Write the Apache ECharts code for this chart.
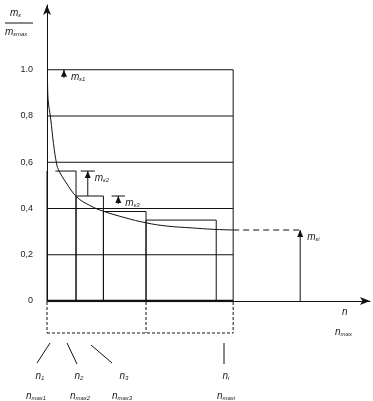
<!DOCTYPE html>
<html><head><meta charset="utf-8">
<script src="https://cdn.jsdelivr.net/npm/echarts@6/dist/echarts.min.js"></script>
<style>html,body{margin:0;padding:0;background:#fff}#c{width:373px;height:401px}</style>
</head><body><div id="c"></div>
<script>
// ---- data ----
const yTickValues = [0, 0.2, 0.4, 0.6, 0.8, 1.0];
const yTickLabels = ['0', '0,2', '0,4', '0,6', '0,8', '1.0'];
const curveX = [0.003, 0.006, 0.02, 0.035, 0.052, 0.065, 0.1, 0.16, 0.23, 0.30, 0.42, 0.532, 0.644, 0.78, 0.892, 1.0];
const curveY = [0.95, 0.87, 0.787, 0.68, 0.592, 0.562, 0.515, 0.45, 0.413, 0.389, 0.36, 0.338, 0.324, 0.316, 0.31, 0.307];
const barLeft = [0, 0.156, 0.303, 0.532];
const barRight = [0.156, 0.303, 0.532, 0.909];
const barTopStart = [0.045, 0.156, 0.303, 0.532];
const barHeight = [0.562, 0.454, 0.387, 0.35];
const limitX = 1.0;
const limitY = 1.0;
const markerX = 1.36;
const markerY = 0.307;
const boxSplitX = 0.532;
const annoSub = ['ε1', 'ε2', 'ε3', 'εi'];
const annoX = [0.091, 0.219, 0.383, 1.36];
const annoFrom = [0.965, 0.454, 0.42, 0];
const annoTo = [1.0, 0.562, 0.454, 0.307];
const annoCapHalf = [0, 0.038, 0.036, 0];
const bottomSub = ['1', '2', '3', 'i'];
const bottomMaxSub = ['max1', 'max2', 'max3', 'maxi'];

const FONT = 'Liberation Sans, Arial, sans-serif';
const INK = '#111';

const chart = echarts.init(document.getElementById('c'), null, {renderer: 'canvas'});

function seg(api, a, b, style) {
  const p = api.coord(a), q = api.coord(b);
  return {type: 'line', shape: {x1: p[0], y1: p[1], x2: q[0], y2: q[1]}, style: Object.assign({stroke: INK, lineWidth: 1}, style || {})};
}
const RICH = {m: {fontSize: 10, fontStyle: 'italic', fontFamily: FONT, fill: '#222'}, s: {fontSize: 6, fontStyle: 'italic', fontFamily: FONT, fill: '#222', padding: [5, 0, 0, 0]}};

const option = {
  animation: false,
  grid: {left: 47, right: 3, top: 5, bottom: 100},
  xAxis: {
    type: 'value', min: 0, max: 1.735,
    axisLine: {show: true, onZero: false, lineStyle: {color: INK, width: 1}, symbol: ['none', 'arrow'], symbolSize: [6, 10]},
    axisTick: {show: false}, axisLabel: {show: false}, splitLine: {show: false}
  },
  yAxis: {
    type: 'value', min: 0, max: 1.28, interval: 0.2,
    axisLine: {show: true, lineStyle: {color: INK, width: 1}, symbol: ['none', 'arrow'], symbolSize: [6, 10]},
    axisTick: {show: false}, splitLine: {show: false},
    axisLabel: {
      margin: 14, color: '#222', fontSize: 9, fontFamily: FONT,
      formatter: v => { const i = yTickValues.findIndex(t => Math.abs(t - v) < 1e-6); return i < 0 ? '' : yTickLabels[i]; }
    }
  },
  series: [
    { // grid lines + limit vertical
      type: 'custom', clip: false, silent: true,
      data: yTickValues.slice(1),
      renderItem: (params, api) => {
        const v = api.value(0);
        const children = [seg(api, [0, v], [limitX, v])];
        if (params.dataIndex === 0) children.push(seg(api, [limitX, 0], [limitX, limitY]));
        return {type: 'group', children};
      },
      encode: {x: 0, y: 0}
    },
    { // bars (outlines)
      type: 'custom', clip: false, silent: true,
      data: barHeight.map((h, i) => [barLeft[i], barRight[i], h, barTopStart[i]]),
      renderItem: (params, api) => {
        const x0 = api.value(0), x1 = api.value(1), h = api.value(2), xs = api.value(3);
        return {type: 'group', children: [
          seg(api, [x0, 0], [x0, h]),
          seg(api, [xs, h], [x1, h]),
          seg(api, [x1, h], [x1, 0])
        ]};
      },
      encode: {x: [0, 1], y: 2}
    },
    { // curve
      type: 'line', smooth: 0.4, symbol: 'none', silent: true,
      data: curveX.map((x, i) => [x, curveY[i]]),
      lineStyle: {color: INK, width: 1}
    },
    { // thick base
      type: 'line', symbol: 'none', silent: true,
      data: [[0, 0], [limitX, 0]],
      lineStyle: {color: INK, width: 2.5}
    },
    { // dashed level to marker
      type: 'line', symbol: 'none', silent: true,
      data: [[limitX, markerY], [markerX, markerY]],
      lineStyle: {color: INK, width: 1, type: [6, 4]}
    },
    { // annotations
      type: 'custom', clip: false, silent: true,
      data: annoX.map((x, i) => [x, annoFrom[i], annoTo[i], annoCapHalf[i]]),
      renderItem: (params, api) => {
        const x = api.value(0), f = api.value(1), t = api.value(2), ch = api.value(3);
        const tip = api.coord([x, t]);
        const children = [seg(api, [x, f], [x, t])];
        if (ch > 0) children.push(seg(api, [x - ch, t], [x + ch, t]));
        children.push({type: 'polygon', shape: {points: [[tip[0], tip[1]], [tip[0] - 3, tip[1] + 7], [tip[0] + 3, tip[1] + 7]]}, style: {fill: INK}});
        children.push({type: 'text', style: {
          text: '{m|m}{s|' + annoSub[params.dataIndex] + '}', x: tip[0] + 7, y: tip[1] + 7,
          verticalAlign: 'middle', align: 'left', rich: RICH
        }});
        return {type: 'group', children};
      },
      encode: {x: 0, y: [1, 2]}
    },
    { // dashed box below axis
      type: 'custom', clip: false, silent: true,
      data: [[0, limitX, boxSplitX]],
      renderItem: (params, api) => {
        const a = api.coord([api.value(0), 0]);
        const b = api.coord([api.value(1), 0]);
        const m = api.coord([api.value(2), 0]);
        const yb = a[1] + 32;
        const st = {stroke: INK, lineWidth: 1, lineDash: [3, 2]};
        const L = (x1, y1, x2, y2) => ({type: 'line', shape: {x1, y1, x2, y2}, style: st});
        return {type: 'group', children: [
          L(a[0], a[1] + 1, a[0], yb), L(b[0], a[1] + 1, b[0], yb), L(m[0], a[1] + 1, m[0], yb), L(a[0], yb, b[0], yb)
        ]};
      },
      encode: {x: [0, 1], y: 2}
    }
  ],
  graphic: [
    {type: 'text', left: 10, top: 8, style: {text: '{m|m}{s|ε}', rich: RICH}},
    {type: 'line', shape: {x1: 5, y1: 23, x2: 33, y2: 23}, style: {stroke: INK, lineWidth: 1}},
    {type: 'text', left: 5, top: 27, style: {text: '{m|m}{s|εmax}', rich: RICH}},
    {type: 'text', left: 342, top: 307, style: {text: 'n', font: 'italic 10px ' + FONT, fill: '#222'}},
    {type: 'text', left: 335, top: 327, style: {text: '{m|n}{s|max}', rich: RICH}},
    {type: 'line', shape: {x1: 50, y1: 343, x2: 37, y2: 363}, style: {stroke: INK, lineWidth: 1}},
    {type: 'line', shape: {x1: 67, y1: 343, x2: 77, y2: 364}, style: {stroke: INK, lineWidth: 1}},
    {type: 'line', shape: {x1: 91, y1: 345, x2: 112, y2: 363}, style: {stroke: INK, lineWidth: 1}},
    {type: 'line', shape: {x1: 224, y1: 343, x2: 224, y2: 364}, style: {stroke: INK, lineWidth: 1}}
  ].concat(
    [40, 79, 124, 226].map((cx, i) => ({type: 'text', x: cx, y: 376, style: {text: '{m|n}{s|' + bottomSub[i] + '}', align: 'center', verticalAlign: 'middle', rich: RICH}})),
    [36, 80, 122, 226].map((cx, i) => ({type: 'text', x: cx, y: 396, style: {text: '{m|n}{s|' + bottomMaxSub[i] + '}', align: 'center', verticalAlign: 'middle', rich: RICH}}))
  )
};
chart.setOption(option);
</script>
</body></html>
